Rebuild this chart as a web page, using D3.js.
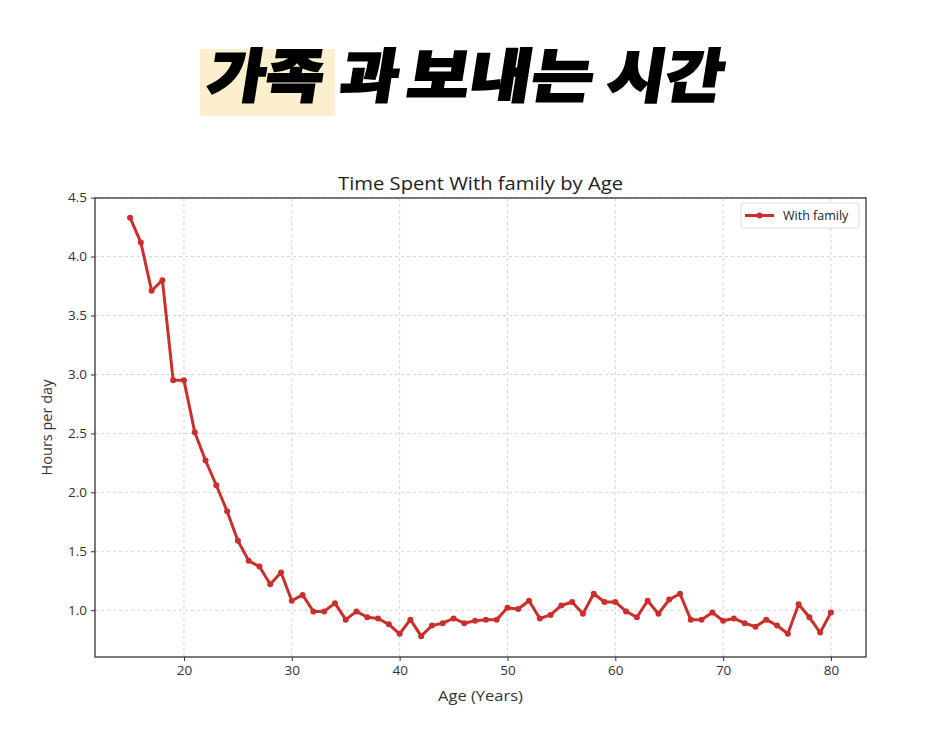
<!DOCTYPE html>
<html>
<head>
<meta charset="utf-8">
<script src="https://cdn.jsdelivr.net/npm/d3@7"></script>
<style>
  body { margin: 0; background: #fff; }
  svg { display: block; }
</style>
</head>
<body>
<svg id="chart" width="936" height="755"></svg>
<script>
const ages = d3.range(15, 81);
const hours = [
  4.33, 4.12, 3.71, 3.80, 2.95, 2.95, 2.51, 2.27, 2.06, 1.84,
  1.59, 1.42, 1.37, 1.22, 1.32, 1.08, 1.13, 0.99, 0.99, 1.06,
  0.92, 0.99, 0.94, 0.93, 0.88, 0.80, 0.92, 0.78, 0.87, 0.89,
  0.93, 0.89, 0.91, 0.92, 0.92, 1.02, 1.01, 1.08, 0.93, 0.96,
  1.04, 1.07, 0.97, 1.14, 1.07, 1.07, 0.99, 0.94, 1.08, 0.97,
  1.09, 1.14, 0.92, 0.92, 0.98, 0.91, 0.93, 0.89, 0.86, 0.92,
  0.87, 0.80, 1.05, 0.94, 0.81, 0.98
];
const xTicks = [20, 30, 40, 50, 60, 70, 80];
const yTicks = [1.0, 1.5, 2.0, 2.5, 3.0, 3.5, 4.0, 4.5];
const headlineWords = ["가족", "과", "보내는", "시간"];
const chartTitle = "Time Spent With family by Age";
const xLabel = "Age (Years)";
const yLabel = "Hours per day";
const seriesName = "With family";

const data = ages.map((a, i) => ({age: a, h: hours[i]}));
const svg = d3.select("#chart");
const color = "#c9302c";
const font = "'Open Sans', Roboto, sans-serif";

// Headline
const wordX = [205, 338, 405, 605];
const wordW = [116, 58, 186, 116];
svg.append("rect").attr("x", 200).attr("y", 49).attr("width", 135).attr("height", 67)
  .attr("fill", "#fbefcd");
headlineWords.forEach((w, i) => {
  svg.append("text")
    .attr("transform", `translate(${wordX[i]},97) skewX(-9)`)
    .attr("font-family", "'Noto Sans CJK KR', sans-serif")
    .attr("font-weight", 900)
    .attr("font-size", 58)
    .attr("textLength", wordW[i])
    .attr("lengthAdjust", "spacingAndGlyphs")
    .attr("fill", "#000")
    .attr("stroke", "#000")
    .attr("stroke-width", 2)
    .attr("stroke-linejoin", "miter")
    .text(w);
});

// Plot area
const L = 95, R = 866, T = 198, B = 657;
const x = d3.scaleLinear().domain([11.75, 83.25]).range([L, R]);
const y = d3.scaleLinear().domain([0.603, 4.497]).range([B, T]);

// Grid
const g = svg.append("g");
g.selectAll(".gx").data(xTicks).join("line")
  .attr("x1", d => x(d)).attr("x2", d => x(d)).attr("y1", T).attr("y2", B)
  .attr("stroke", "#c8c8c8").attr("stroke-width", 0.8).attr("stroke-dasharray", "3,3");
g.selectAll(".gy").data(yTicks).join("line")
  .attr("y1", d => y(d)).attr("y2", d => y(d)).attr("x1", L).attr("x2", R)
  .attr("stroke", "#c8c8c8").attr("stroke-width", 0.8).attr("stroke-dasharray", "3,3");

// Axes
const xAxis = d3.axisBottom(x).tickValues(xTicks).tickFormat(d3.format("d")).tickSize(4).tickPadding(4);
const yAxis = d3.axisLeft(y).tickValues(yTicks).tickFormat(d3.format(".1f")).tickSize(4).tickPadding(4);
const gx = svg.append("g").attr("transform", `translate(0,${B})`).call(xAxis);
const gy = svg.append("g").attr("transform", `translate(${L},0)`).call(yAxis);
[gx, gy].forEach(a => {
  a.select(".domain").remove();
  a.selectAll(".tick line").attr("stroke", "#333");
  a.selectAll(".tick text").attr("font-family", font).attr("font-size", 13.5).attr("fill", "#333");
});

// Frame
svg.append("rect").attr("x", L).attr("y", T).attr("width", R - L).attr("height", B - T)
  .attr("fill", "none").attr("stroke", "#333").attr("stroke-width", 1.3);

// Line
const line = d3.line().x(d => x(d.age)).y(d => y(d.h));
svg.append("path").datum(data).attr("d", line)
  .attr("fill", "none").attr("stroke", color).attr("stroke-width", 3).attr("stroke-linejoin", "round");
svg.selectAll(".pt").data(data).join("circle")
  .attr("cx", d => x(d.age)).attr("cy", d => y(d.h)).attr("r", 3).attr("fill", color);

// Titles
svg.append("text").attr("x", 338).attr("y", 190)
  .attr("font-family", font).attr("font-size", 18.5).attr("fill", "#222")
  .attr("textLength", 285).attr("lengthAdjust", "spacingAndGlyphs").text(chartTitle);
svg.append("text").attr("x", 438).attr("y", 701)
  .attr("font-family", font).attr("font-size", 15).attr("fill", "#333")
  .attr("textLength", 85).attr("lengthAdjust", "spacingAndGlyphs").text(xLabel);
svg.append("text").attr("transform", `translate(52,${(T + B) / 2}) rotate(-90)`).attr("text-anchor", "middle")
  .attr("font-family", font).attr("font-size", 14.5).attr("fill", "#333").text(yLabel);

// Legend
const lg = svg.append("g");
lg.append("rect").attr("x", 741).attr("y", 203).attr("width", 118).attr("height", 25).attr("rx", 3)
  .attr("fill", "#fff").attr("stroke", "#ddd");
lg.append("line").attr("x1", 745).attr("x2", 774).attr("y1", 215.5).attr("y2", 215.5)
  .attr("stroke", color).attr("stroke-width", 3);
lg.append("circle").attr("cx", 759.5).attr("cy", 215.5).attr("r", 3).attr("fill", color);
lg.append("text").attr("x", 783).attr("y", 220).attr("font-family", font).attr("font-size", 12.5)
  .attr("fill", "#222").text(seriesName);
</script>
</body>
</html>
